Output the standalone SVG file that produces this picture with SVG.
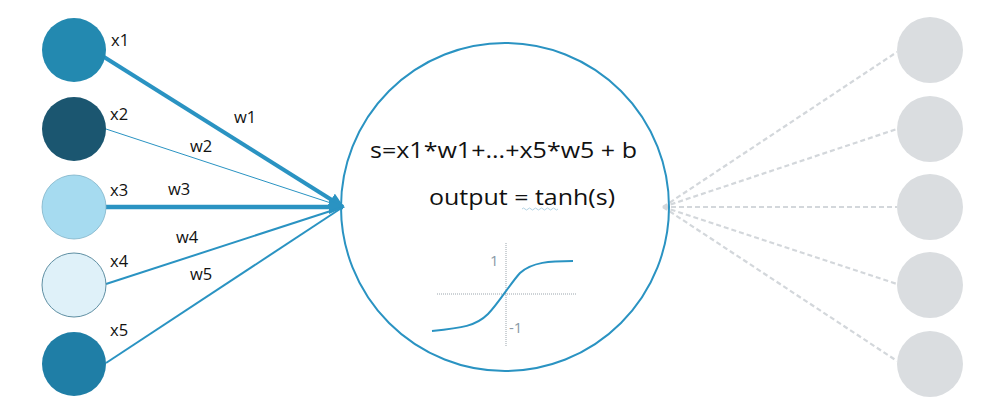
<svg xmlns="http://www.w3.org/2000/svg" width="997" height="414" viewBox="0 0 997 414">
<style>
.lbl{font-family:"Open Sans","Liberation Sans",sans-serif;font-size:16.5px;fill:#111}
.big{font-family:"Open Sans","Liberation Sans",sans-serif;font-size:21px;fill:#111}
.ax{font-family:"Open Sans","Liberation Sans",sans-serif;font-size:15px;fill:#8a9aa6}
.in{stroke:#2a93c2;fill:none}
.out{stroke:#d3d7db;stroke-width:2.2;stroke-dasharray:5 3;fill:none}
.onode{fill:#dadde0}
</style>
<defs>
<marker id="ah" markerUnits="userSpaceOnUse" markerWidth="16" markerHeight="14" refX="14" refY="7" orient="auto">
<path d="M0,0 L16,7 L0,14 Z" fill="#2a93c2"/>
</marker>
</defs>
<rect width="997" height="414" fill="#fff"/>
<g id="connectors">
<line class="in" x1="104" y1="57" x2="343" y2="207" stroke-width="4" marker-end="url(#ah)"/>
<line class="in" x1="106" y1="129" x2="343" y2="207" stroke-width="1"/>
<line class="in" x1="106" y1="207" x2="343" y2="207" stroke-width="4.5" marker-end="url(#ah)"/>
<line class="in" x1="106" y1="284" x2="343" y2="207" stroke-width="2"/>
<line class="in" x1="106" y1="363" x2="343" y2="207" stroke-width="2"/>
<line class="out" x1="663" y1="207" x2="897" y2="52"/>
<line class="out" x1="663" y1="207" x2="897" y2="129"/>
<line class="out" x1="663" y1="207" x2="897" y2="207"/>
<line class="out" x1="663" y1="207" x2="897" y2="284"/>
<line class="out" x1="663" y1="207" x2="897" y2="361"/>
</g>
<g id="in1"><circle cx="74" cy="50" r="32" fill="#2389b0"/><text class="lbl" x="111" y="46">x1</text></g>
<g id="in2"><circle cx="74" cy="129" r="32" fill="#1b5670"/><text class="lbl" x="110" y="120">x2</text></g>
<g id="in3"><circle cx="74" cy="207" r="32" fill="#a6dbf0" stroke="#7fb3c8" stroke-width="0.8"/><text class="lbl" x="110" y="196">x3</text></g>
<g id="in4"><circle cx="74" cy="285" r="32" fill="#dff1f9" stroke="#5f8fa3" stroke-width="1"/><text class="lbl" x="110" y="267">x4</text></g>
<g id="in5"><circle cx="74" cy="364" r="32" fill="#1f7ea6"/><text class="lbl" x="110" y="336">x5</text></g>
<g id="weights">
<text class="lbl" x="234" y="123">w1</text>
<text class="lbl" x="190" y="152">w2</text>
<text class="lbl" x="168" y="195">w3</text>
<text class="lbl" x="176" y="243">w4</text>
<text class="lbl" x="190" y="280">w5</text>
</g>
<g id="neuron">
<circle cx="505" cy="207" r="164" fill="none" stroke="#2a93c2" stroke-width="2"/>
<text class="big" x="370" y="158" textLength="267" lengthAdjust="spacingAndGlyphs">s=x1*w1+...+x5*w5 + b</text>
<text class="big" x="429" y="205" textLength="186" lengthAdjust="spacingAndGlyphs">output = tanh(s)</text>
<path d="M522,209 q1.5,-2 3,0 t3,0 t3,0 t3,0 t3,0 t3,0 t3,0 t3,0 t3,0 t3,0 t3,0 t3,0" fill="none" stroke="#9ec6da" stroke-width="0.8"/>
<line x1="506" y1="243" x2="506" y2="347" stroke="#9aa5ad" stroke-width="1" stroke-dasharray="1 1"/>
<line x1="437" y1="294" x2="577" y2="294" stroke="#9aa5ad" stroke-width="1" stroke-dasharray="1 1"/>
<path d="M432,331 C462,328 476,326 488,314 C498,304 510,284 520,273 C532,262 550,261 573,261" fill="none" stroke="#2a93c2" stroke-width="2"/>
<text class="ax" x="490" y="266">1</text>
<text class="ax" x="509" y="333">-1</text>
</g>
<g id="out1"><circle class="onode" cx="930" cy="50" r="33"/></g>
<g id="out2"><circle class="onode" cx="930" cy="129" r="33"/></g>
<g id="out3"><circle class="onode" cx="930" cy="207" r="33"/></g>
<g id="out4"><circle class="onode" cx="930" cy="285" r="33"/></g>
<g id="out5"><circle class="onode" cx="930" cy="364" r="33"/></g>
</svg>
